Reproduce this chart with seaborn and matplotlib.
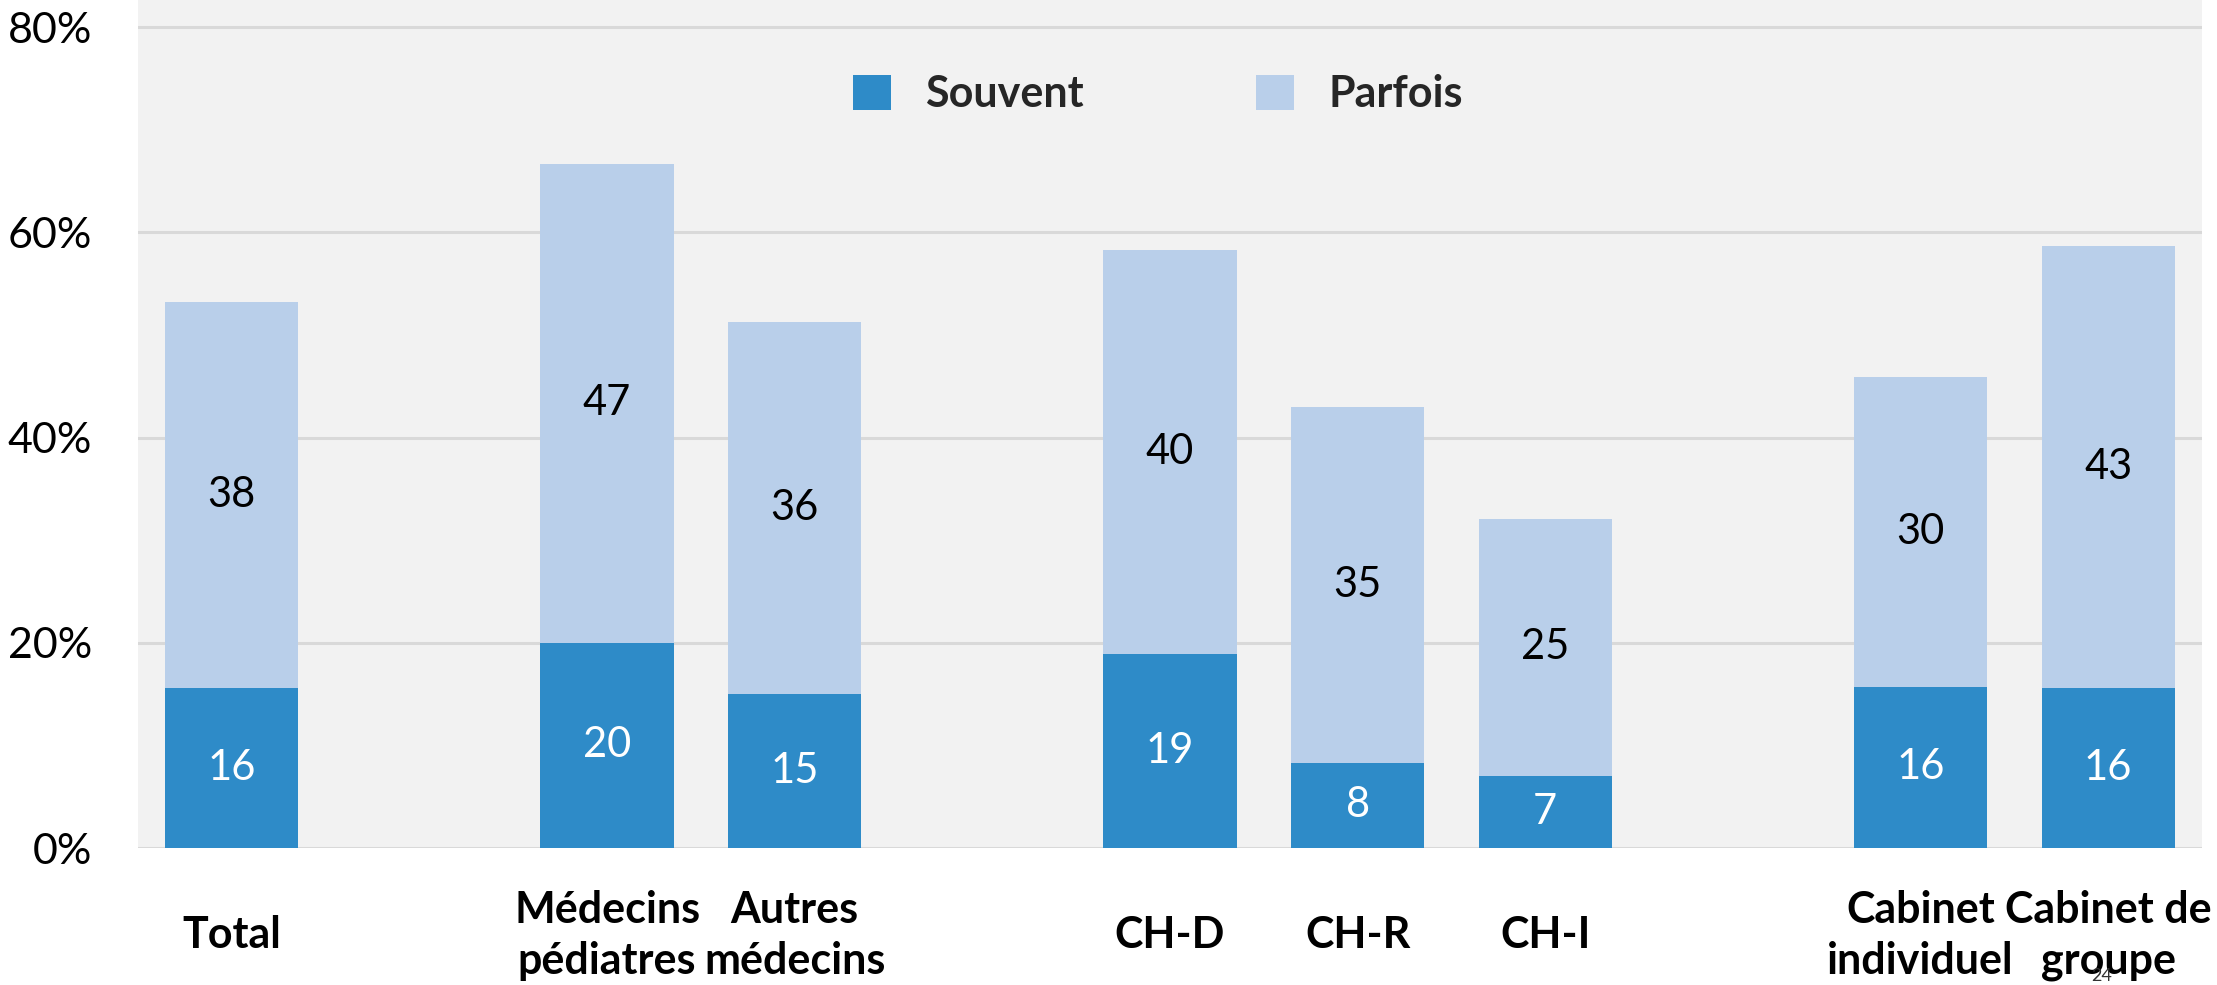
import numpy as np
import pandas as pd
import seaborn as sns
import matplotlib
matplotlib.use("Agg")
import matplotlib.pyplot as plt
from matplotlib.patches import Patch

# ---- data ----
categories = ["Total", "Médecins\npédiatres", "Autres\nmédecins",
              "CH-D", "CH-R", "CH-I",
              "Cabinet\nindividuel", "Cabinet de\ngroupe"]
souvent = [15.6, 20.0, 15.0, 18.9, 8.3, 7.0, 15.7, 15.6]
parfois = [37.6, 46.7, 36.3, 39.4, 34.7, 25.1, 30.2, 43.1]
souvent_labels = ["16", "20", "15", "19", "8", "7", "16", "16"]
parfois_labels = ["38", "47", "36", "40", "35", "25", "30", "43"]
series_names = ["Souvent", "Parfois"]
yticks = [0, 20, 40, 60, 80]
ytick_labels = ["0%", "20%", "40%", "60%", "80%"]

# slot order with empty gaps between groups
order = ["Total", " ", "Médecins\npédiatres", "Autres\nmédecins", "  ",
         "CH-D", "CH-R", "CH-I", "   ", "Cabinet\nindividuel", "Cabinet de\ngroupe"]

df = pd.DataFrame({"cat": categories, "souvent": souvent, "parfois": parfois})
df["total"] = df["souvent"] + df["parfois"]

C_SOUV = "#2E8BC8"
C_PARF = "#B9CFEA"
BG = "#F2F2F2"
GRID = "#D9D9D9"

sns.set_theme(style="white")
plt.rcParams["font.family"] = ["Lato", "DejaVu Sans"]

fig = plt.figure(figsize=(22.17, 9.85), dpi=100)
ax = fig.add_axes([138 / 2217, 137 / 985, 2064 / 2217, 848 / 985])
ax.set_facecolor(BG)

sns.barplot(data=df, x="cat", y="total", order=order, color=C_PARF,
            width=0.71, saturation=1, ax=ax, zorder=3, linewidth=0)
sns.barplot(data=df, x="cat", y="souvent", order=order, color=C_SOUV,
            width=0.71, saturation=1, ax=ax, zorder=4, linewidth=0)

ax.set_xlim(-0.5, len(order) - 0.5)
ax.set_ylim(0, 82.65)
ax.set_yticks(yticks)
ax.set_yticklabels(ytick_labels, fontsize=31, color="black")
ax.yaxis.grid(True, color=GRID, linewidth=2.2, zorder=0)
ax.set_axisbelow(True)
for s in ax.spines.values():
    s.set_visible(False)
ax.tick_params(axis="y", length=0, pad=33)
ax.tick_params(axis="x", length=0, pad=63)
ax.set_xlabel("")
ax.set_ylabel("")

ax.set_xticks(range(len(order)))
ax.set_xticklabels(order, fontsize=31, fontweight="bold", va="center",
                   linespacing=1.32, color="black")

# value labels
pos = {c: i for i, c in enumerate(order)}
for c, s, p, sl, pl in zip(categories, souvent, parfois, souvent_labels, parfois_labels):
    x = pos[c]
    ax.text(x, s / 2, sl, ha="center", va="center", fontsize=30, color="white", zorder=6)
    ax.text(x, s + p / 2, pl, ha="center", va="center", fontsize=30, color="black", zorder=6)

handles = [Patch(facecolor=C_SOUV, edgecolor="none"), Patch(facecolor=C_PARF, edgecolor="none")]
leg = fig.legend(handles, series_names, loc="center", bbox_to_anchor=(1158 / 2217, 1 - 94 / 985),
                 ncol=2, frameon=False, handlelength=0.88, handleheight=0.88,
                 handletextpad=0.8, columnspacing=4.0,
                 prop={"size": 31, "weight": "bold"})

fig.text(2102 / 2217, 1 - 976 / 985, "24", fontsize=13, color="#333333",
         ha="center", va="center")

fig.savefig("out.png", dpi=100, facecolor="white")
